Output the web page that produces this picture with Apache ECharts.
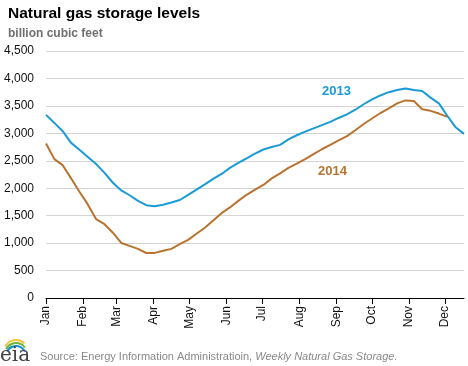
<!DOCTYPE html>
<html>
<head>
<meta charset="utf-8">
<script src="https://cdn.jsdelivr.net/npm/echarts@6/dist/echarts.min.js"></script>
<style>
html,body{margin:0;padding:0;background:#fff;}
#chart{width:468px;height:366px;}
</style>
</head>
<body>
<div id="chart"></div>
<script>
// Month labels and their start positions (day of year, 0-based)
var monthLabels = ['Jan','Feb','Mar','Apr','May','Jun','Jul','Aug','Sep','Oct','Nov','Dec'];
var monthStarts = [0,31,59,90,120,151,181,212,243,273,304,334];
var axisEndDay = 350;

// Weekly report positions (day of year) and storage (Bcf)
var days2013 = [0,7,14,21,28,35,42,49,56,63,70,77,84,91,98,105,112,119,126,133,140,147,154,161,168,175,182,189,196,203,210,217,224,231,238,245,252,259,266,273,280,287,294,301,308,315,322,329,336,343,350];
var values2013 = [3336,3190,3039,2826,2700,2570,2440,2280,2100,1960,1872,1770,1690,1672,1700,1740,1785,1880,1975,2070,2170,2260,2370,2460,2545,2632,2705,2750,2790,2890,2965,3030,3090,3150,3210,3280,3345,3430,3530,3620,3690,3750,3790,3815,3790,3770,3650,3545,3320,3110,2990];

var days2014 = [0,7,14,21,28,35,42,49,56,63,70,77,84,91,98,105,112,119,126,133,140,147,154,161,168,175,182,189,196,203,210,217,224,231,238,245,252,259,266,273,280,287,294,301,308,315,322,329,336];
var values2014 = [2815,2530,2420,2180,1935,1705,1435,1345,1190,1003,950,895,820,822,860,895,980,1060,1170,1280,1410,1545,1650,1770,1880,1976,2060,2180,2270,2370,2450,2530,2620,2710,2790,2870,2950,3057,3170,3270,3370,3455,3545,3600,3590,3440,3410,3360,3300];

var seriesNames = ['2013','2014'];
var seriesColors = ['#1a9ad6','#b9732f'];

var categories = [];
for (var i = 0; i <= axisEndDay; i++) categories.push(String(i));

function pairs(d, v){ return d.map(function(x, k){ return [x, v[k]]; }); }

var chart = echarts.init(document.getElementById('chart'), null, {renderer:'canvas'});
var FONT = '"Liberation Sans", Arial, sans-serif';

chart.setOption({
  animation:false,
  backgroundColor:'#fff',
  title:[{
    text:'Natural gas storage levels',
    left:3, top:1,
    textStyle:{fontFamily:FONT, fontSize:15.5, fontWeight:'bold', color:'#000'}
  },{
    text:'billion cubic feet',
    left:3, top:23,
    textStyle:{fontFamily:FONT, fontSize:12, fontWeight:'bold', color:'#707070'}
  }],
  grid:{left:46, right:4, top:51, bottom:68, containLabel:false},
  xAxis:{
    type:'category',
    data:categories,
    boundaryGap:false,
    axisLine:{show:true, lineStyle:{color:'#000', width:1}},
    axisTick:{show:true, length:6, lineStyle:{color:'#000'},
      interval:function(idx){ return monthStarts.indexOf(idx) >= 0; }},
    axisLabel:{
      rotate:90, margin:8,
      interval:function(idx){ return monthStarts.indexOf(idx) >= 0; },
      formatter:function(val, idx){ var m = monthStarts.indexOf(idx); return m >= 0 ? monthLabels[m] : ''; },
      fontFamily:FONT, fontSize:12, color:'#111'
    },
    splitLine:{show:false}
  },
  yAxis:{
    type:'value',
    min:0, max:4500, interval:500,
    axisLine:{show:false},
    axisTick:{show:false},
    axisLabel:{
      margin:12,
      fontFamily:FONT, fontSize:12, color:'#111',
      formatter:function(v){ return v.toLocaleString('en-US'); }
    },
    splitLine:{show:true, lineStyle:{color:'#d4d4d4', width:1}}
  },
  series:[{
    name:seriesNames[0], type:'line', data:pairs(days2013, values2013),
    showSymbol:false, lineStyle:{color:seriesColors[0], width:2}, itemStyle:{color:seriesColors[0]},
    z:3
  },{
    name:seriesNames[1], type:'line', data:pairs(days2014, values2014),
    showSymbol:false, lineStyle:{color:seriesColors[1], width:2}, itemStyle:{color:seriesColors[1]},
    z:2
  }],
  graphic:[
    {type:'text', left:322, top:85, style:{text:seriesNames[0], fill:seriesColors[0], font:'bold 13px '+FONT}},
    {type:'text', left:318, top:165, style:{text:seriesNames[1], fill:seriesColors[1], font:'bold 13px '+FONT}},
    {type:'arc', shape:{cx:16, cy:352, r:12, startAngle:Math.PI*1.15, endAngle:Math.PI*1.75}, style:{stroke:'#f2c230', lineWidth:2, fill:null}},
    {type:'arc', shape:{cx:16, cy:354, r:11, startAngle:Math.PI*1.15, endAngle:Math.PI*1.8}, style:{stroke:'#6bb43f', lineWidth:2, fill:null}},
    {type:'arc', shape:{cx:16, cy:356, r:10, startAngle:Math.PI*1.15, endAngle:Math.PI*1.85}, style:{stroke:'#1a8fd0', lineWidth:2, fill:null}},
    {type:'text', left:0, top:346, style:{text:'eia', fill:'#444', font:'20px "DejaVu Serif", serif'}},
    {type:'text', left:40, top:351, style:{
      rich:{n:{fontFamily:FONT, fontSize:11, fill:'#8a8a8a'}, i:{fontFamily:FONT, fontSize:11, fill:'#8a8a8a', fontStyle:'italic'}},
      text:'{n|Source: Energy Information Administratioin, }{i|Weekly Natural Gas Storage.}'
    }}
  ]
});
</script>
</body>
</html>
